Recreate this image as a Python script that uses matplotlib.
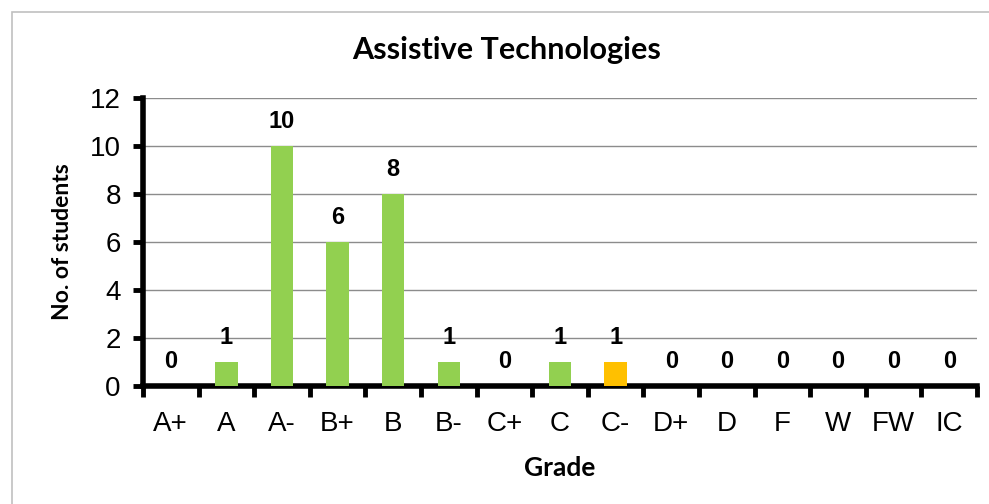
import numpy as np
import matplotlib.pyplot as plt
from matplotlib.patches import Rectangle

grades = ['A+', 'A', 'A-', 'B+', 'B', 'B-', 'C+', 'C', 'C-', 'D+', 'D', 'F', 'W', 'FW', 'IC']
students = [0, 1, 10, 6, 8, 1, 0, 1, 1, 0, 0, 0, 0, 0, 0]
highlight = 'C-'

green = '#92D050'
orange = '#FFC000'
colors = [orange if g == highlight else green for g in grades]

fig = plt.figure(figsize=(9.89, 5.04), dpi=100)
fig.patches.append(Rectangle((12/989, -0.1), 1.2, (504-12)/504 + 0.1,
                             transform=fig.transFigure, fill=False,
                             edgecolor='#c0c0c0', linewidth=1.2))

ax = fig.add_axes([143/989, (504-386)/504, (977-143)/989, (386-98)/504])
x = np.arange(len(grades))
ax.bar(x, students, width=0.4, color=colors, zorder=3)

for xi, v in zip(x, students):
    ax.annotate(str(v), (xi, v), xytext=(0, 18), textcoords='offset points',
                ha='center', va='center', fontsize=17, fontweight='bold',
                family='Liberation Sans')

ax.set_xlim(-0.5, len(grades) - 0.5)
ax.set_ylim(0, 12)
ax.set_yticks(range(0, 13, 2))
ax.yaxis.grid(True, color='#8c8c8c', linewidth=1, zorder=0)
ax.set_axisbelow(True)

ax.set_xticks(np.arange(-0.5, len(grades), 1))
ax.set_xticklabels([])
ax.set_xticks(x, minor=True)
ax.set_xticklabels(grades, minor=True, fontsize=20, family='Liberation Sans')
ax.tick_params(axis='x', which='major', length=8, width=3.5, direction='out')
ax.tick_params(axis='x', which='minor', length=0, pad=18)
ax.tick_params(axis='y', length=7, width=3.5, direction='out', pad=9, labelsize=20)
for lab in ax.get_yticklabels():
    lab.set_family('Liberation Sans')

for s in ['top', 'right']:
    ax.spines[s].set_visible(False)
for s in ['left', 'bottom']:
    ax.spines[s].set_linewidth(4)
    ax.spines[s].set_color('black')
    ax.spines[s].set_capstyle('projecting')

ax.set_ylabel('No. of students', fontsize=16.5, fontweight='bold',
              family='Lato', labelpad=12)
ax.set_xlabel('Grade', fontsize=19, fontweight='bold', family='Lato', labelpad=14)
fig.text(507/989, 1 - 50/504, 'Assistive Technologies', ha='center', va='center',
         fontsize=22, fontweight='bold', family='Lato')

fig.savefig('out.png', dpi=100)
